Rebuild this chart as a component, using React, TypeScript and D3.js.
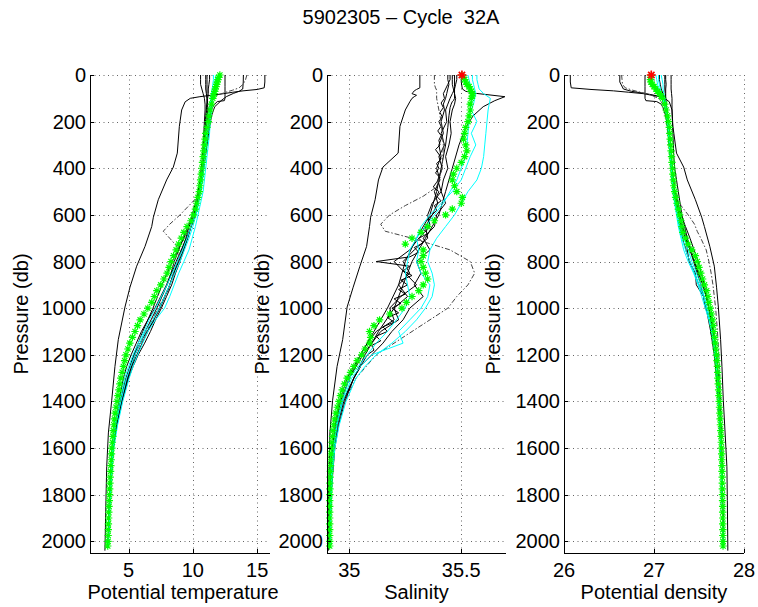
import React from 'react';
import * as d3 from 'd3';

// ---------- tick labels ----------
const presTicks = [0, 200, 400, 600, 800, 1000, 1200, 1400, 1600, 1800, 2000];
const tempTicks = [5, 10, 15];
const salTicks = [35, 35.5];
const denTicks = [26, 27, 28];

// ---------- current float (green asterisks) ----------
const pG = [0,10,20,30,40,50,60,70,80,90,100,
  125,150,175,200,225,250,275,300,325,350,375,400,425,450,475,500,525,550,575,600,625,650,675,700,725,750,775,800,825,850,875,900,925,950,975,
  1000,1025,1050,1075,1100,1125,1150,1175,1200,1225,1250,1275,1300,1325,1350,1375,1400,1425,1450,1475,1500,1525,1550,1575,1600,1625,1650,1675,1700,1725,1750,1775,1800,1825,1850,1875,1900,1925,1950,1975,2000,2020];
const tG = [12.1,12.0,11.95,11.9,11.85,11.8,11.75,11.7,11.65,11.6,11.55,
  11.45,11.35,11.25,11.2,11.1,11.0,10.95,10.9,10.85,10.8,10.75,10.7,10.65,10.6,10.55,10.5,10.4,10.3,10.2,10.05,9.85,9.55,9.3,9.1,8.9,8.7,8.5,8.3,8.15,8.0,7.75,7.5,7.2,7.0,6.8,
  6.5,6.2,5.9,5.7,5.5,5.3,5.1,4.95,4.8,4.7,4.6,4.5,4.4,4.32,4.25,4.17,4.1,4.02,3.95,3.9,3.85,3.81,3.78,3.74,3.7,3.67,3.65,3.62,3.6,3.57,3.55,3.53,3.52,3.5,3.48,3.46,3.45,3.43,3.42,3.41,3.4,3.38];
const sG = [35.503,35.51,35.515,35.52,35.525,35.535,35.54,35.545,35.55,35.55,35.545,
  35.54,35.54,35.535,35.53,35.52,35.515,35.51,35.52,35.525,35.515,35.5,35.48,35.465,35.46,35.47,35.48,35.505,35.5,35.46,35.43,35.38,35.35,35.32,35.28,35.25,35.33,35.33,35.32,35.33,35.34,35.35,35.33,35.31,35.28,35.255,
  35.235,35.18,35.135,35.11,35.09,35.095,35.09,35.07,35.055,35.035,35.02,35.005,34.99,34.978,34.968,34.96,34.953,34.946,34.94,34.935,34.93,34.927,34.925,34.922,34.92,34.918,34.917,34.916,34.915,34.914,34.913,34.913,34.913,34.912,34.912,34.912,34.912,34.912,34.912,34.912,34.912,34.912];
const dG = [26.97,26.965,26.96,26.965,26.98,27.0,27.02,27.04,27.06,27.08,27.095,
  27.12,27.135,27.15,27.16,27.17,27.175,27.18,27.185,27.19,27.195,27.2,27.205,27.21,27.215,27.22,27.23,27.24,27.255,27.27,27.285,27.3,27.31,27.32,27.35,27.38,27.42,27.46,27.48,27.5,27.52,27.54,27.56,27.585,27.6,27.61,
  27.625,27.64,27.65,27.658,27.665,27.673,27.68,27.688,27.695,27.7,27.705,27.708,27.71,27.714,27.718,27.722,27.725,27.728,27.732,27.735,27.738,27.742,27.745,27.748,27.75,27.752,27.753,27.755,27.756,27.758,27.759,27.76,27.761,27.762,27.763,27.763,27.764,27.764,27.765,27.765,27.766,27.767];

// ---------- shared pressure grid for bundle profiles ----------
const pA = [0,20,40,60,80,100,125,150,200,250,300,350,400,450,500,550,600,650,700,750,800,850,900,950,1000,1050,1100,1150,1200,1250,1300,1400,1500,1600,1700,1800,1900,2000,2025];

// cyan profiles
const tC1 = [11.8,11.75,11.7,11.65,11.6,11.55,11.5,11.45,11.35,11.3,11.2,11.1,11.0,10.9,10.8,10.6,10.4,10.2,9.95,9.7,9.3,8.9,8.55,8.2,7.8,7.1,6.5,6.1,5.7,5.35,5.05,4.55,4.15,3.85,3.7,3.6,3.52,3.45,3.43];
const sC1 = [35.57,35.57,35.575,35.58,35.6,35.63,35.625,35.62,35.615,35.61,35.605,35.6,35.59,35.57,35.53,35.5,35.47,35.43,35.39,35.36,35.35,35.37,35.38,35.37,35.34,35.3,35.25,35.19,35.12,35.07,35.03,34.985,34.955,34.935,34.925,34.92,34.917,34.915,34.915];
const dC1 = [27.02,27.03,27.04,27.05,27.07,27.1,27.12,27.13,27.15,27.16,27.17,27.18,27.19,27.2,27.21,27.23,27.25,27.27,27.3,27.33,27.38,27.44,27.49,27.53,27.57,27.61,27.64,27.66,27.68,27.695,27.705,27.72,27.735,27.745,27.752,27.758,27.762,27.765,27.766];

const tC2 = [11.6,11.6,11.55,11.5,11.45,11.4,11.35,11.3,11.2,11.1,11.0,10.95,10.85,10.75,10.6,10.45,10.25,10.0,9.7,9.35,9.0,8.6,8.2,7.8,7.4,6.9,6.3,5.9,5.5,5.15,4.85,4.4,4.0,3.78,3.65,3.55,3.48,3.42,3.4];
const sC2 = [35.55,35.55,35.555,35.56,35.565,35.56,35.555,35.545,35.57,35.545,35.565,35.54,35.52,35.5,35.46,35.41,35.36,35.32,35.3,35.31,35.3,35.32,35.36,35.35,35.32,35.27,35.22,35.24,35.1,35.05,35.01,34.97,34.945,34.93,34.922,34.918,34.915,34.914,34.914];
const dC2 = [27.08,27.09,27.1,27.1,27.11,27.12,27.13,27.14,27.16,27.17,27.18,27.185,27.195,27.205,27.22,27.24,27.26,27.29,27.33,27.38,27.42,27.47,27.52,27.56,27.59,27.62,27.645,27.665,27.68,27.695,27.705,27.722,27.736,27.746,27.753,27.758,27.762,27.765,27.766];

const tC3 = [12.0,11.9,11.85,11.75,11.65,11.55,11.45,11.35,11.25,11.15,11.05,10.95,10.85,10.7,10.55,10.4,10.15,9.85,9.55,9.2,8.8,8.4,8.0,7.55,7.1,6.6,6.2,5.75,5.35,5.0,4.7,4.3,3.95,3.75,3.62,3.53,3.47,3.41,3.4];
const sC3 = [35.53,35.535,35.54,35.545,35.55,35.55,35.545,35.54,35.535,35.53,35.525,35.52,35.5,35.48,35.45,35.42,35.38,35.34,35.3,35.27,35.26,35.25,35.26,35.27,35.25,35.21,35.17,35.12,35.08,35.04,35.0,34.965,34.942,34.928,34.92,34.916,34.914,34.913,34.913];
const dC3 = [27.05,27.05,27.06,27.07,27.08,27.1,27.115,27.13,27.15,27.165,27.175,27.185,27.195,27.205,27.215,27.235,27.26,27.28,27.31,27.35,27.4,27.45,27.5,27.55,27.585,27.62,27.645,27.665,27.68,27.695,27.705,27.72,27.735,27.745,27.752,27.758,27.762,27.765,27.766];

// black bundle profiles
const tB5 = [10.6,10.6,10.6,10.7,10.8,10.9,10.95,10.95,10.9,10.85,10.8,10.75,10.65,10.55,10.4,10.2,9.95,9.7,9.45,9.15,8.85,8.5,8.2,7.8,7.4,6.95,6.5,6.05,5.65,5.25,4.9,4.45,4.05,3.8,3.65,3.55,3.48,3.42,3.4];
const sB5 = [35.46,35.46,35.46,35.465,35.47,35.475,35.47,35.46,35.45,35.455,35.445,35.43,35.44,35.42,35.41,35.43,35.39,35.38,35.33,35.36,35.3,35.32,35.29,35.33,35.27,35.24,35.19,35.15,35.1,35.05,35.02,34.975,34.948,34.932,34.922,34.917,34.914,34.913,34.913];
const dB5 = [27.19,27.19,27.19,27.19,27.195,27.2,27.2,27.2,27.205,27.21,27.215,27.22,27.23,27.25,27.27,27.29,27.31,27.34,27.37,27.41,27.45,27.5,27.54,27.58,27.61,27.64,27.66,27.68,27.695,27.705,27.715,27.73,27.742,27.75,27.757,27.762,27.766,27.77,27.771];

const tB6 = [11.0,11.0,11.0,11.0,11.05,11.1,11.15,11.15,11.1,11.0,10.9,10.85,10.75,10.6,10.45,10.3,10.1,9.85,9.6,9.3,9.0,8.65,8.35,7.95,7.55,7.1,6.7,6.25,5.75,5.35,5.0,4.5,4.1,3.82,3.67,3.56,3.49,3.43,3.41];
const sB6 = [35.44,35.44,35.445,35.44,35.435,35.43,35.42,35.425,35.41,35.42,35.4,35.41,35.39,35.405,35.38,35.395,35.37,35.34,35.35,35.29,35.24,35.27,35.22,35.26,35.2,35.22,35.14,35.1,35.06,35.03,35.0,34.96,34.94,34.926,34.918,34.914,34.912,34.911,34.911];
const dB6 = [27.13,27.13,27.135,27.13,27.13,27.13,27.13,27.135,27.14,27.165,27.17,27.185,27.19,27.22,27.23,27.27,27.29,27.31,27.36,27.37,27.39,27.46,27.47,27.55,27.57,27.63,27.63,27.66,27.68,27.7,27.71,27.725,27.738,27.748,27.755,27.76,27.764,27.767,27.768];

const tB7 = [11.3,11.3,11.25,11.2,11.2,11.15,11.1,11.05,11.0,10.95,10.9,10.8,10.7,10.6,10.5,10.3,10.0,9.6,9.25,8.9,8.55,8.3,7.95,7.5,7.05,6.5,6.0,5.6,5.2,4.85,4.6,4.25,3.95,3.75,3.62,3.53,3.47,3.41,3.4];
const sB7 = [35.48,35.48,35.475,35.47,35.46,35.45,35.44,35.43,35.435,35.41,35.425,35.4,35.415,35.395,35.41,35.37,35.35,35.36,35.31,35.27,35.2,35.25,35.3,35.23,35.18,35.2,35.12,35.08,35.05,35.02,34.99,34.955,34.937,34.924,34.917,34.913,34.911,34.91,34.91];
const dB7 = [27.06,27.06,27.07,27.08,27.1,27.11,27.12,27.13,27.15,27.16,27.17,27.18,27.195,27.2,27.23,27.25,27.28,27.3,27.35,27.4,27.45,27.49,27.55,27.58,27.61,27.64,27.665,27.68,27.695,27.705,27.715,27.728,27.74,27.748,27.755,27.76,27.764,27.767,27.768];

// high-resolution noisy profile
const pB8 = [0,20,40,60,80,100,120,140,160,180,200,220,240,260,280,300,320,340,360,380,400,420,440,460,480,500,520,540,560,580,600,620,640,660,680,700,720,740,760,780,800,820,840,860,880,900,920,940,960,980,1000,1020,1040,1060,1080,1100,1120,1140,1160,1180,1200,1250,1300,1400,1500,1600,1800,2000,2025];
const tB8 = [11.1,11.1,11.1,11.1,11.1,11.1,11.1,11.05,11.05,11.0,11.0,
  10.95,10.95,10.9,10.9,10.85,10.85,10.8,10.8,10.75,10.7,
  10.7,10.65,10.6,10.55,10.5,10.45,10.4,10.3,10.25,10.15,
  10.05,9.95,9.8,9.7,9.55,9.45,9.3,9.2,9.05,8.9,
  8.75,8.6,8.5,8.35,8.2,8.1,7.9,7.75,7.6,7.45,
  7.25,7.05,6.9,6.65,6.45,6.2,6.0,5.8,5.6,5.45,
  5.15,4.9,4.45,4.05,3.8,3.55,3.42,3.4];
const sB8 = [35.45,35.45,35.44,35.43,35.42,35.425,35.41,35.42,35.405,35.415,35.40,
  35.41,35.395,35.41,35.40,35.405,35.385,35.40,35.41,35.39,35.40,
  35.385,35.405,35.39,35.375,35.40,35.39,35.41,35.38,35.39,35.37,
  35.35,35.36,35.33,35.35,35.31,35.33,35.29,35.31,35.27,35.12,
  35.27,35.24,35.28,35.23,35.26,35.22,35.25,35.20,35.23,35.19,
  35.22,35.17,35.20,35.15,35.17,35.12,35.14,35.10,35.11,35.08,
  35.05,35.02,34.97,34.945,34.93,34.916,34.912,34.912];
const dB8 = [27.12,27.12,27.12,27.12,27.125,27.13,27.135,27.14,27.145,27.15,27.155,
  27.16,27.165,27.17,27.17,27.175,27.18,27.185,27.19,27.19,27.195,
  27.2,27.205,27.21,27.215,27.22,27.225,27.23,27.24,27.25,27.26,
  27.27,27.28,27.29,27.3,27.32,27.33,27.35,27.36,27.38,27.4,
  27.42,27.44,27.46,27.48,27.5,27.52,27.54,27.56,27.57,27.59,
  27.6,27.615,27.63,27.64,27.65,27.66,27.67,27.675,27.68,27.69,
  27.7,27.71,27.725,27.738,27.748,27.76,27.767,27.768];

// warm-surface profile with sharp step (far-left in temperature)
const pB1 = [0,30,55,62,68,74,80,87,93,100,115,150,220,335,395,450,535,610,650,735,820,910,995,1135,1250,1395,1535,1680,1825,2020,2040];
const tB1 = [15.6,15.6,15.55,15.0,13.9,13.1,12.4,11.4,10.55,9.8,9.4,9.13,8.95,8.79,8.48,7.96,7.31,6.93,6.8,6.28,5.63,5.11,4.72,4.2,3.94,3.69,3.43,3.3,3.24,3.17,3.16];
const sB1 = [35.315,35.315,35.315,35.3,35.29,35.285,35.28,35.3,35.29,35.28,35.27,35.25,35.226,35.218,35.15,35.13,35.115,35.095,35.09,35.077,35.047,35.017,34.99,34.97,34.945,34.925,34.913,34.91,34.906,34.906,34.906];
const dB1 = [26.07,26.07,26.08,26.3,26.55,26.72,26.88,26.98,27.07,27.12,27.17,27.2,27.21,27.25,27.33,27.37,27.46,27.53,27.56,27.62,27.67,27.695,27.715,27.74,27.755,27.77,27.79,27.81,27.815,27.82,27.82];

// profile with salty subsurface spike
const pB2 = [0,30,60,70,79,93,110,136,175,225,300,400,500,600,700,800,900,1000,1100,1200,1300,1400,1500,1600,1800,2000,2025];
const tB2 = [13.93,13.92,13.88,13.6,13.15,12.6,12.2,11.7,11.45,11.3,11.1,10.85,10.6,10.2,9.5,8.7,8.0,7.2,6.3,5.5,4.95,4.45,4.05,3.8,3.55,3.43,3.41];
const sB2 = [35.5,35.5,35.505,35.52,35.568,35.695,35.65,35.598,35.553,35.52,35.49,35.46,35.43,35.4,35.34,35.28,35.24,35.2,35.13,35.07,35.02,34.98,34.952,34.935,34.918,34.913,34.913];
const dB2 = [26.62,26.62,26.66,26.75,26.9,27.08,27.12,27.14,27.15,27.165,27.18,27.2,27.22,27.28,27.36,27.44,27.52,27.58,27.63,27.67,27.695,27.715,27.73,27.742,27.757,27.765,27.766];

// deep mixed-layer profile
const pB3 = [0,50,100,110,114,125,140,175,225,300,400,500,600,700,800,900,1000,1100,1200,1300,1400,1500,1600,1800,2000,2025];
const tB3 = [12.5,12.5,12.5,12.45,11.9,11.7,11.5,11.35,11.2,11.05,10.8,10.55,10.1,9.3,8.4,7.6,6.9,6.1,5.4,4.8,4.35,4.0,3.78,3.54,3.42,3.4];
const sB3 = [35.47,35.47,35.47,35.465,35.46,35.455,35.45,35.445,35.44,35.43,35.41,35.39,35.36,35.3,35.25,35.22,35.17,35.11,35.05,35.0,34.965,34.943,34.93,34.917,34.912,34.912];
const dB3 = [26.9,26.9,26.9,26.91,27.03,27.08,27.1,27.13,27.15,27.17,27.2,27.23,27.3,27.4,27.49,27.56,27.61,27.65,27.68,27.7,27.72,27.735,27.745,27.758,27.766,27.767];

// dash-dot profile
const pD1 = [0,20,40,55,65,75,85,100,125,150,200,300,400,480,520,560,600,640,670,700,750,800,850,900,950,1000,1100,1200,1300,1400,1500,1600,1800,2000,2025];
const tD1 = [14.2,14.1,13.9,13.6,13.1,12.5,12.0,11.6,11.35,11.2,11.05,10.9,10.75,10.6,10.4,9.7,9.0,8.2,7.7,8.2,9.0,8.8,8.5,8.2,7.8,7.3,6.4,5.5,4.8,4.3,3.95,3.75,3.52,3.42,3.4];
const sD1 = [35.38,35.38,35.38,35.385,35.39,35.39,35.39,35.39,35.395,35.4,35.41,35.42,35.415,35.39,35.33,35.25,35.18,35.14,35.16,35.28,35.45,35.54,35.56,35.53,35.48,35.44,35.28,35.12,35.03,34.98,34.95,34.932,34.917,34.913,34.913];
const dD1 = [26.64,26.645,26.65,26.68,26.76,26.86,26.96,27.05,27.1,27.13,27.155,27.18,27.2,27.22,27.26,27.3,27.38,27.45,27.48,27.52,27.58,27.61,27.635,27.655,27.67,27.685,27.705,27.72,27.73,27.74,27.748,27.755,27.762,27.767,27.768];

type Prof = { p: number[]; t: number[]; s: number[]; d: number[]; kind: 'black' | 'cyan' | 'dash' };
const blackProfiles: Prof[] = [
  { p: pB1, t: tB1, s: sB1, d: dB1, kind: 'black' },
  { p: pB2, t: tB2, s: sB2, d: dB2, kind: 'black' },
  { p: pB3, t: tB3, s: sB3, d: dB3, kind: 'black' },
  { p: pA, t: tB5, s: sB5, d: dB5, kind: 'black' },
  { p: pA, t: tB6, s: sB6, d: dB6, kind: 'black' },
  { p: pA, t: tB7, s: sB7, d: dB7, kind: 'black' },
  { p: pB8, t: tB8, s: sB8, d: dB8, kind: 'black' },
  { p: pD1, t: tD1, s: sD1, d: dD1, kind: 'dash' },
];
const cyanProfiles: Prof[] = [
  { p: pA, t: tC1, s: sC1, d: dC1, kind: 'cyan' },
  { p: pA, t: tC2, s: sC2, d: dC2, kind: 'cyan' },
  { p: pA, t: tC3, s: sC3, d: dC3, kind: 'cyan' },
];

const FONT = "'Liberation Sans', Arial, Helvetica, sans-serif";
const TOP = 75;
const BOTTOM = 553;

type PanelDef = {
  key: 't' | 's' | 'd';
  left: number; right: number; domain: [number, number]; ticks: number[];
  label: string; labelX: number; ylabX: number; red: boolean;
};
const panelDefs: PanelDef[] = [
  { key: 't', left: 90, right: 270, domain: [2, 16], ticks: tempTicks, label: 'Potential temperature', labelX: 183, ylabX: 28, red: false },
  { key: 's', left: 327, right: 506, domain: [34.9, 35.7], ticks: salTicks, label: 'Salinity', labelX: 416.5, ylabX: 269, red: true },
  { key: 'd', left: 564, right: 744, domain: [26, 28], ticks: denTicks, label: 'Potential density', labelX: 654, ylabX: 500, red: true },
];

function asterisk(r: number) {
  const k = r * 0.7071;
  return `M${-r},0H${r}M0,${-r}V${r}M${-k},${-k}L${k},${k}M${-k},${k}L${k},${-k}`;
}

function Panel({ def }: { def: PanelDef }) {
  const x = d3.scaleLinear().domain(def.domain).range([def.left, def.right]);
  const y = d3.scaleLinear().domain([0, 2050]).range([TOP, BOTTOM]);
  const path = (pr: Prof) => {
    const vals = pr[def.key];
    const line = d3.line<number>().x((v) => x(v)).y((_, i) => y(pr.p[i]));
    return line(vals) || '';
  };
  const star = asterisk(3.7);
  const gv = def.key === 't' ? tG : def.key === 's' ? sG : dG;
  return (
    <g>
      {/* grid */}
      <g stroke="#000" strokeWidth={0.8} strokeDasharray="1,3.5" opacity={0.75}>
        {presTicks.map((p) => (
          <line key={'h' + p} x1={def.left} x2={def.right} y1={Math.round(y(p)) + 0.5} y2={Math.round(y(p)) + 0.5} />
        ))}
        {def.ticks.map((t) => (
          <line key={'v' + t} x1={Math.round(x(t)) + 0.5} x2={Math.round(x(t)) + 0.5} y1={TOP} y2={BOTTOM} />
        ))}
      </g>
      {/* reference profiles */}
      <g fill="none">
        {blackProfiles.map((pr, i) => (
          <path key={'b' + i} d={path(pr)} stroke={pr.kind === 'dash' ? '#444' : '#000'} strokeWidth={1}
            strokeDasharray={pr.kind === 'dash' ? '5,2,1.5,2' : undefined} />
        ))}
        {cyanProfiles.map((pr, i) => (
          <path key={'c' + i} d={path(pr)} stroke="#00ffff" strokeWidth={1} />
        ))}
      </g>
      {/* current profile */}
      <g stroke="#00ff00" strokeWidth={1.2} fill="none">
        {gv.map((v, i) => (
          <path key={'g' + i} d={star} transform={`translate(${x(v)},${y(pG[i])})`} />
        ))}
      </g>
      {def.red && (
        <path d={asterisk(4.5)} transform={`translate(${x(gv[0])},${y(pG[0])})`} stroke="#ff0000" strokeWidth={1.6} fill="none" />
      )}
      {/* axes */}
      <line x1={def.left + 0.5} x2={def.left + 0.5} y1={TOP} y2={BOTTOM} stroke="#000" strokeWidth={1} />
      <line x1={def.left} x2={def.right} y1={BOTTOM + 0.5} y2={BOTTOM + 0.5} stroke="#000" strokeWidth={1} />
      {presTicks.map((p) => (
        <g key={'yt' + p}>
          <line x1={def.left} x2={def.left + 4} y1={Math.round(y(p)) + 0.5} y2={Math.round(y(p)) + 0.5} stroke="#000" />
          <text x={def.left - 4} y={y(p)} textAnchor="end" dominantBaseline="central" fontSize={20} fontFamily={FONT}>{p}</text>
        </g>
      ))}
      {def.ticks.map((t) => (
        <g key={'xt' + t}>
          <line x1={Math.round(x(t)) + 0.5} x2={Math.round(x(t)) + 0.5} y1={BOTTOM} y2={BOTTOM - 4} stroke="#000" />
          <text x={x(t)} y={576.5} textAnchor="middle" fontSize={20} fontFamily={FONT}>{String(t)}</text>
        </g>
      ))}
      <text x={def.labelX} y={599} textAnchor="middle" fontSize={20} fontFamily={FONT}>{def.label}</text>
      <text transform={`translate(${def.ylabX},${(TOP + BOTTOM) / 2}) rotate(-90)`} textAnchor="middle" fontSize={20} fontFamily={FONT}>Pressure (db)</text>
    </g>
  );
}

export default function App() {
  return (
    <svg width={758} height={607} style={{ position: 'absolute', left: 0, top: 0, background: '#fff' }}>
      <rect x={0} y={0} width={758} height={607} fill="#fff" />
      <text x={401} y={24} textAnchor="middle" fontSize={20} fontFamily={FONT} style={{ whiteSpace: 'pre' }}>{'5902305 \u2013 Cycle  32A'}</text>
      {panelDefs.map((def) => (
        <Panel key={def.key} def={def} />
      ))}
    </svg>
  );
}
